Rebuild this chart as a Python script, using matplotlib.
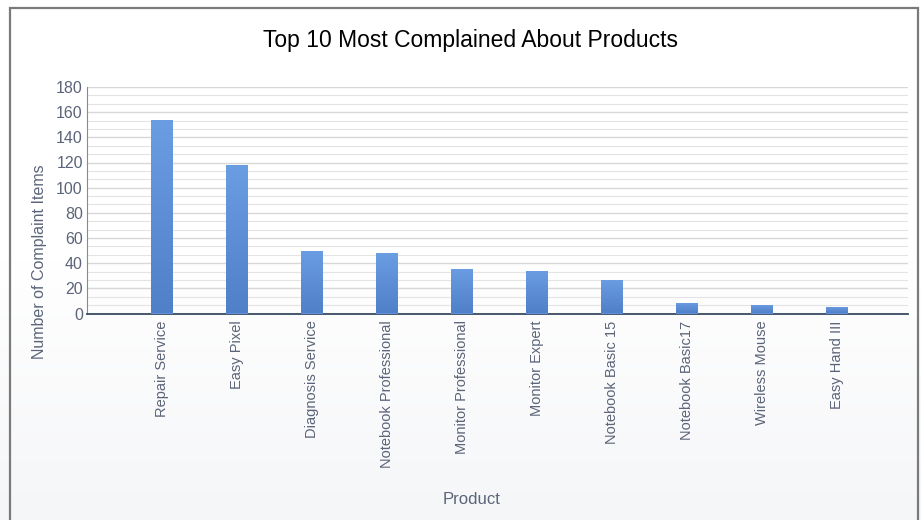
import matplotlib.pyplot as plt
from matplotlib.ticker import MultipleLocator
from matplotlib.patches import Rectangle
import numpy as np

products = ["Repair Service", "Easy Pixel", "Diagnosis Service", "Notebook Professional",
            "Monitor Professional", "Monitor Expert", "Notebook Basic 15", "Notebook Basic17",
            "Wireless Mouse", "Easy Hand III"]
complaints = [154, 118, 50, 48, 35, 34, 27, 8, 7, 5]

plt.rcParams['font.family'] = ['Liberation Sans', 'DejaVu Sans']

fig = plt.figure(figsize=(9.21, 5.2), dpi=100)

# background: white fading to very light grey
bg = fig.add_axes([0, 0, 1, 1], zorder=-10)
grad = np.linspace(0, 1, 256).reshape(-1, 1)
bg.imshow(grad, aspect='auto', extent=[0, 1, 0, 1], origin='upper',
          cmap=plt.matplotlib.colors.LinearSegmentedColormap.from_list(
              'bg', ['#ffffff', '#ffffff', '#f5f6f8']))
bg.set_xlim(0, 1)
bg.set_ylim(0, 1)
bg.axis('off')
# outer frame
bg.add_patch(Rectangle((10 / 921, -0.05), 908 / 921, 1 - 8 / 520 + 0.05,
                       fill=False, edgecolor='#7a7a7a', linewidth=1.6))

ax = fig.add_axes([87 / 921, 1 - 313.5 / 520, (908 - 87) / 921, (313.5 - 87) / 520])
ax.set_facecolor('none')

x = np.arange(len(products))
bars = ax.bar(x, complaints, width=0.29, color='#5f8fd8', zorder=3)
bar_cmap = plt.matplotlib.colors.LinearSegmentedColormap.from_list('bar', ['#6b9de3', '#5080c8'])
for b in bars:
    bx, by = b.get_x(), b.get_y()
    w, h = b.get_width(), b.get_height()
    im = ax.imshow(np.linspace(0, 1, 100).reshape(-1, 1), cmap=bar_cmap, aspect='auto',
                   extent=[bx, bx + w, by, by + h], origin='upper', zorder=4)
    im.set_clip_path(b)

ax.set_xlim(-1, 9.95)
ax.set_ylim(0, 180)
ax.yaxis.set_major_locator(MultipleLocator(20))
ax.yaxis.set_minor_locator(MultipleLocator(20 / 3))
ax.grid(axis='y', which='major', color='#d8d8d8', linewidth=1.0, zorder=0)
ax.grid(axis='y', which='minor', color='#e4e4e4', linewidth=0.8, zorder=0)

ax.set_xticks(x)
ax.set_xticklabels(products, rotation=90, fontsize=10.5, color='#5b6478')
ax.tick_params(axis='x', length=0, pad=5)
ax.tick_params(axis='y', which='both', length=0, labelsize=11.5, labelcolor='#5b6478', pad=3)

for s in ['top', 'right']:
    ax.spines[s].set_visible(False)
ax.spines['left'].set_color('#8a8a8a')
ax.spines['bottom'].set_color('#3a4a60')
ax.spines['bottom'].set_linewidth(1.3)

fig.text(40 / 921, 1 - 262 / 520, "Number of Complaint Items", fontsize=11.5, color='#5b6478',
         rotation=90, ha='center', va='center')
fig.text(472 / 921, 1 - 500 / 520, "Product", fontsize=12, color='#5b6478',
         ha='center', va='center')
fig.text(470 / 921, 1 - 40 / 520, "Top 10 Most Complained About Products", fontsize=16.5,
         color='black', ha='center', va='center')

fig.savefig('out.png', dpi=100)
